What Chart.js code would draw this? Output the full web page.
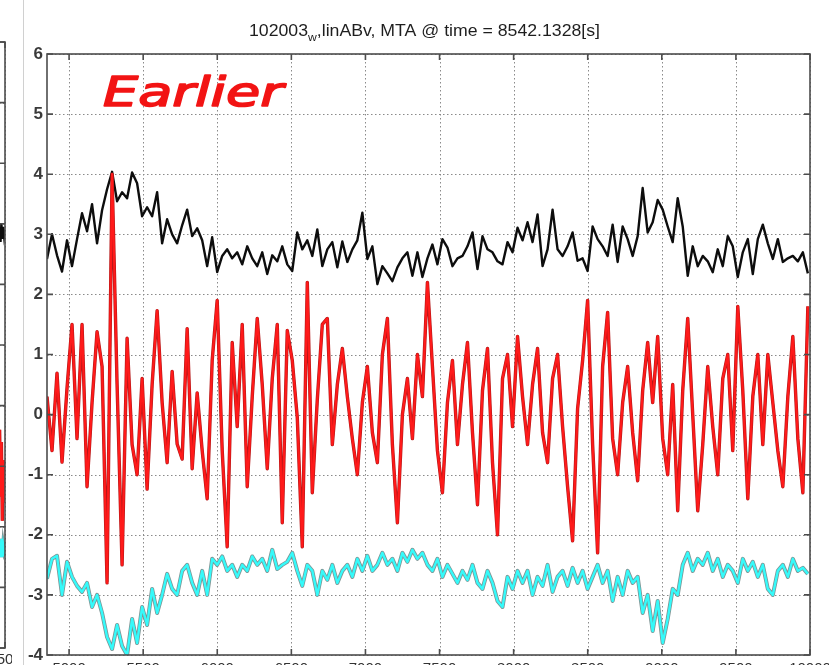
<!DOCTYPE html>
<html>
<head>
<meta charset="utf-8">
<title>linABv MTA</title>
<script src="https://cdn.jsdelivr.net/npm/chart.js"></script>
<style>
  html, body { margin: 0; padding: 0; background: #fff; }
  body { width: 829px; height: 665px; overflow: hidden; position: relative; }
  #mainChart { position: absolute; left: 0; top: 0; }
  #sideChart { position: absolute; left: -295px; top: 0; }
  #divider { position: absolute; left: 23px; top: 0; width: 1px; height: 665px; background: #d0d0d0; }
</style>
</head>
<body>
<canvas id="sideChart" width="307" height="676"></canvas>
<div id="divider"></div>
<canvas id="mainChart" width="829" height="700"></canvas>
<script>
// axis setup
const xMin = 4851, xMax = 10000;
const xTicks = [5000, 5500, 6000, 6500, 7000, 7500, 8000, 8500, 9000, 9500, 10000];
const yTicks = [-4, -3, -2, -1, 0, 1, 2, 3, 4, 5, 6];

// uniformly sampled traces
const sampleStart = 4851, sampleStep = 33.78;

const blackTrace = [
  2.59, 3.0, 2.65, 2.38, 2.9, 2.47, 2.92, 3.35, 3.05, 3.5,
  2.85, 3.4, 3.75, 4.04, 3.55, 3.7, 3.6, 4.03, 3.85, 3.3,
  3.45, 3.3, 3.7, 2.85, 3.25, 3.0, 2.85, 3.15, 3.41, 2.97,
  3.1, 2.9, 2.47, 2.95, 2.37, 2.64, 2.75, 2.6, 2.7, 2.5,
  2.8, 2.6, 2.47, 2.7, 2.34, 2.65, 2.55, 2.8, 2.5, 2.39,
  3.03, 2.75, 2.9, 2.64, 3.08, 2.47, 2.75, 2.87, 2.45, 2.88,
  2.54, 2.75, 2.9, 3.36, 2.59, 2.8, 2.17, 2.47, 2.35, 2.22,
  2.45, 2.6, 2.7, 2.31, 2.7, 2.29, 2.6, 2.83, 2.5, 2.92,
  2.78, 2.47, 2.6, 2.64, 2.8, 3.03, 2.42, 2.97, 2.75, 2.7,
  2.55, 2.5, 2.87, 2.7, 3.11, 2.9, 3.2, 2.87, 3.33, 2.47,
  2.75, 3.41, 2.75, 2.64, 2.8, 3.03, 2.56, 2.6, 2.39, 3.13,
  2.92, 2.8, 2.64, 3.16, 2.54, 3.13, 2.92, 2.64, 2.97, 3.77,
  3.03, 3.2, 3.57, 3.41, 3.13, 2.87, 3.6, 3.13, 2.31, 2.8,
  2.47, 2.64, 2.55, 2.37, 2.75, 2.47, 2.97, 2.8, 2.29, 2.7,
  2.92, 2.34, 2.92, 3.16, 2.85, 2.59, 2.92, 2.54, 2.6, 2.64,
  2.55, 2.7, 2.35
];

const redTrace = [
  0.3, -0.6, 0.69, -0.79, 0.44, 1.5, -0.4, 1.5, -1.2, 0.2,
  1.38, 0.8, -2.8, 4.0, 0.5, -2.5, 1.27, -0.5, -1.0, 0.6,
  -1.24, 0.5, 1.73, 0.2, -0.8, 0.72, -0.49, -0.74, 1.43, -0.9,
  0.36, -0.6, -1.4, 0.9, 1.9, -0.6, -2.2, 1.2, -0.2, 1.5,
  -1.2, 0.3, 1.6, 0.5, -0.9, 0.6, 1.5, -1.8, 1.4, 0.9,
  -0.05, -2.2, 2.2, -1.3, 0.25, 1.5, 1.6, -0.5, 0.5, 1.1,
  0.3, -0.4, -1.0, 0.2, 0.8, -0.3, -0.8, 1.0, 1.6, -0.5,
  -1.8, 0.0, 0.6, -0.4, 1.0, 0.3, 2.2, 0.8, -0.6, -1.3,
  0.2, 0.9, -0.5, 0.5, 1.2, -0.3, -1.5, 0.4, 1.1, -0.8,
  -2.0, 0.6, 1.0, -0.2, 1.3, 0.3, -0.5, 0.5, 1.1, -0.3,
  -0.8, 0.6, 1.0, -0.2, -1.2, -2.1, 0.1, 0.9, 1.9, -0.5,
  -2.3, 0.8, 1.7, -0.4, -1.0, 0.2, 0.8, -0.3, -1.1, 0.4,
  1.2, 0.2, 1.3, -0.4, -1.0, 0.5, -1.6, 0.4, 1.6, 0.0,
  -1.6, -0.5, 0.8, -0.2, -1.0, 0.6, 1.0, -0.6, 1.8, 0.4,
  -1.4, 0.3, 1.0, -0.5, 1.0, 0.2, -0.6, -1.2, 0.3, 1.3,
  -0.4, -1.3, 1.8
];

const cyanTrace = [
  -2.73, -2.4, -2.35, -3.0, -2.45, -2.7, -2.85, -2.95, -2.8, -3.2,
  -3.0, -3.3, -3.7, -3.9, -3.5, -3.85, -4.0, -3.4, -3.8, -3.2,
  -3.5, -2.9, -3.3, -3.0, -2.65, -2.9, -3.0, -2.6, -2.5, -2.8,
  -3.0, -2.6, -3.0, -2.4, -2.5, -2.36, -2.6, -2.5, -2.7, -2.5,
  -2.6, -2.36, -2.5, -2.4, -2.6, -2.25, -2.57, -2.5, -2.45, -2.3,
  -2.6, -2.85, -2.5, -2.6, -3.0, -2.6, -2.75, -2.5, -2.8, -2.6,
  -2.5, -2.7, -2.4, -2.6, -2.35, -2.6, -2.5, -2.3, -2.5, -2.4,
  -2.6, -2.3, -2.45, -2.25, -2.4, -2.3, -2.5, -2.6, -2.4, -2.7,
  -2.5, -2.65, -2.8, -2.6, -2.75, -2.5, -2.8, -2.9, -2.6, -2.8,
  -3.1, -3.2, -2.7, -2.9, -2.6, -2.8, -2.6, -3.0, -2.7, -2.85,
  -2.5, -2.95, -2.7, -2.6, -2.85, -2.55, -2.8, -2.6, -2.9, -2.7,
  -2.5, -2.8, -2.6, -3.1, -2.7, -3.0, -2.6, -2.8, -2.7, -3.3,
  -3.0, -3.6, -3.1, -3.8, -3.4, -2.9, -3.0, -2.5, -2.3, -2.6,
  -2.4, -2.5, -2.3, -2.6, -2.4, -2.7, -2.5, -2.6, -2.8, -2.4,
  -2.6, -2.45, -2.7, -2.5, -2.9, -3.0, -2.6, -2.5, -2.7, -2.4,
  -2.6, -2.55, -2.65
];

// neighbouring panel (only its right edge shows)
const sideTicksX = [0, 500, 1000, 1500];
const sideTimes = [1470, 1475, 1480, 1485, 1490, 1495, 1500];
const sideBlack = [2.9, 2.7, 3.0, 2.75, 2.95, 2.8, 2.9];
const sideRed = [-0.4, -1.5, -0.6, -1.9, -0.9, -1.6, -1.0];
const sideCyan = [-2.3, -2.5, -2.2, -2.5, -2.3, -2.4, -2.35];

const titleMain = '102003';
const titleSub = 'w';
const titleRest = ',linABv, MTA @ time = 8542.1328[s]';
const noteText = 'Earlier';

const axisFont = '"Liberation Sans", Arial, sans-serif';

function toPoints(values) {
  return values.map((v, i) => ({ x: sampleStart + i * sampleStep, y: v }));
}
function pair(times, values) {
  return values.map((v, i) => ({ x: times[i], y: v }));
}
const plainNumber = v => String(v);

// each trace is a light core over a darker edge, like the exported figure
function traceSets(points, core, edge, coreWidth, edgeWidth, order) {
  return [
    { data: points, borderColor: core, borderWidth: coreWidth, order: order },
    { data: points, borderColor: edge, borderWidth: edgeWidth, order: order + 0.5 }
  ];
}

// dotted grid under the data, solid frame with inward ticks over it
function boxPlugin(xt, yt) {
  return {
    id: 'box',
    beforeDatasetsDraw(chart) {
      const { ctx, chartArea: a, scales: { x, y } } = chart;
      ctx.save();
      ctx.strokeStyle = '#8a8a8a';
      ctx.lineWidth = 1;
      ctx.setLineDash([1.5, 2.5]);
      ctx.beginPath();
      xt.forEach(v => {
        const px = Math.round(x.getPixelForValue(v)) + 0.5;
        ctx.moveTo(px, a.top); ctx.lineTo(px, a.bottom);
      });
      yt.forEach(v => {
        const py = Math.round(y.getPixelForValue(v)) + 0.5;
        ctx.moveTo(a.left, py); ctx.lineTo(a.right, py);
      });
      ctx.stroke();
      ctx.restore();
    },
    afterDatasetsDraw(chart) {
      const { ctx, chartArea: a, scales: { x, y } } = chart;
      ctx.save();
      ctx.strokeStyle = '#4d4d4d';
      ctx.lineWidth = 1.6;
      ctx.strokeRect(a.left, a.top, a.right - a.left, a.bottom - a.top);
      ctx.beginPath();
      const len = 6;
      xt.forEach(v => {
        const px = x.getPixelForValue(v);
        ctx.moveTo(px, a.bottom); ctx.lineTo(px, a.bottom - len);
        ctx.moveTo(px, a.top); ctx.lineTo(px, a.top + len);
      });
      yt.forEach(v => {
        const py = y.getPixelForValue(v);
        ctx.moveTo(a.left, py); ctx.lineTo(a.left + len, py);
        ctx.moveTo(a.right, py); ctx.lineTo(a.right - len, py);
      });
      ctx.stroke();
      ctx.restore();
    }
  };
}

const textPlugin = {
  id: 'labels',
  afterDraw(chart) {
    const ctx = chart.ctx;
    ctx.save();
    // title with subscript, fitted to its slot
    const big = '16px ' + axisFont;
    const small = '11px ' + axisFont;
    ctx.font = big;
    const w1 = ctx.measureText(titleMain).width;
    const w3 = ctx.measureText(titleRest).width;
    ctx.font = small;
    const w2 = ctx.measureText(titleSub).width;
    const total = w1 + w2 + w3;
    ctx.save();
    ctx.translate(249, 36);
    ctx.scale(351 / total, 1);
    ctx.fillStyle = '#1e1e1e';
    ctx.textBaseline = 'alphabetic';
    let tx = 0;
    ctx.font = big;
    ctx.fillText(titleMain, tx, 0);
    tx += w1;
    ctx.font = small;
    ctx.fillText(titleSub, tx, 5);
    tx += w2;
    ctx.font = big;
    ctx.fillText(titleRest, tx, 0);
    ctx.restore();

    // red note
    ctx.font = 'italic 40px "DejaVu Sans", sans-serif';
    const nw = ctx.measureText(noteText).width;
    ctx.translate(103, 106);
    ctx.scale(180 / nw, 1);
    ctx.fillStyle = '#f21414';
    ctx.strokeStyle = '#f21414';
    ctx.lineWidth = 1.6;
    ctx.lineJoin = 'round';
    ctx.fillText(noteText, 0, 0);
    ctx.strokeText(noteText, 0, 0);
    ctx.restore();
  }
};

const commonPlugins = { legend: { display: false }, tooltip: { enabled: false }, title: { display: false } };

new Chart(document.getElementById('mainChart'), {
  type: 'line',
  data: {
    datasets: [
      ...traceSets(toPoints(redTrace), '#ff1a1a', '#b41818', 2.2, 3.4, 0),
      { data: toPoints(blackTrace), borderColor: '#0d0d0d', borderWidth: 2.4, order: 1 },
      ...traceSets(toPoints(cyanTrace), '#35fafa', '#7d9494', 2.4, 4.0, 2)
    ]
  },
  options: {
    responsive: false,
    animation: false,
    parsing: false,
    layout: { padding: { top: 54, right: 19, left: 0, bottom: 0 } },
    plugins: commonPlugins,
    elements: { point: { radius: 0 }, line: { tension: 0, borderJoinStyle: 'round' } },
    scales: {
      x: {
        type: 'linear', min: xMin, max: xMax,
        afterBuildTicks: s => { s.ticks = xTicks.map(v => ({ value: v })); },
        grid: { display: false, drawTicks: false },
        border: { display: false },
        ticks: { font: { family: axisFont, size: 15 }, color: '#333', padding: 5, maxRotation: 0, autoSkip: false, callback: plainNumber },
        afterFit: s => { s.height = 45; s.paddingLeft = 0; s.paddingRight = 0; }
      },
      y: {
        type: 'linear', min: -4, max: 6,
        afterBuildTicks: s => { s.ticks = yTicks.map(v => ({ value: v })); },
        grid: { display: false, drawTicks: false },
        border: { display: false },
        ticks: { font: { family: axisFont, size: 17, weight: 'bold' }, color: '#3a3a3a', padding: 4, callback: plainNumber },
        afterFit: s => { s.width = 47; }
      }
    }
  },
  plugins: [boxPlugin(xTicks, yTicks), textPlugin]
});

new Chart(document.getElementById('sideChart'), {
  type: 'line',
  data: {
    datasets: [
      ...traceSets(pair(sideTimes, sideRed), '#ff1a1a', '#b41818', 2.2, 3.4, 0),
      { data: pair(sideTimes, sideBlack), borderColor: '#0d0d0d', borderWidth: 2.4, order: 1 },
      ...traceSets(pair(sideTimes, sideCyan), '#35fafa', '#7d9494', 2.4, 4.0, 2)
    ]
  },
  options: {
    responsive: false,
    animation: false,
    parsing: false,
    layout: { padding: { top: 42, right: 7, left: 0, bottom: 0 } },
    plugins: commonPlugins,
    elements: { point: { radius: 0 }, line: { tension: 0 } },
    scales: {
      x: {
        type: 'linear', min: 0, max: 1500,
        afterBuildTicks: s => { s.ticks = sideTicksX.map(v => ({ value: v })); },
        grid: { display: false, drawTicks: false },
        border: { display: false },
        ticks: { font: { family: axisFont, size: 15 }, color: '#333', padding: 3, maxRotation: 0, autoSkip: false, callback: plainNumber },
        afterFit: s => { s.height = 28; s.paddingLeft = 0; s.paddingRight = 0; }
      },
      y: {
        type: 'linear', min: -4, max: 6,
        afterBuildTicks: s => { s.ticks = yTicks.map(v => ({ value: v })); },
        grid: { display: false, drawTicks: false },
        border: { display: false },
        ticks: { display: false },
        afterFit: s => { s.width = 30; }
      }
    }
  },
  plugins: [boxPlugin(sideTicksX, yTicks)]
});
</script>
</body>
</html>
